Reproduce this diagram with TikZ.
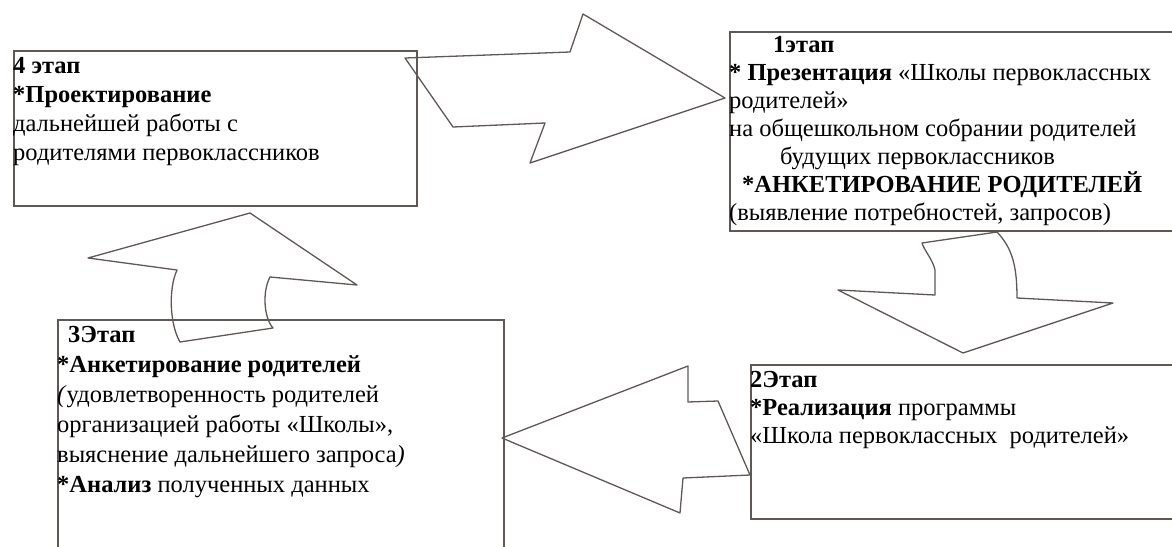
\documentclass[tikz,border=0pt]{standalone}
\usepackage{fontspec}
\setmainfont{Liberation Serif}
\usetikzlibrary{positioning}

\definecolor{framegray}{RGB}{96,88,84}
\tikzset{
    stagebox/.style={draw=framegray, line width=1.6pt, anchor=north west, inner sep=0pt},
    stagetext/.style={anchor=base west, align=left, inner sep=0pt, font=\fontsize{24.5}{28}\selectfont},
    blockarrow/.style={draw=framegray, line width=1.3pt, line join=round},
}

\begin{document}
\begin{tikzpicture}[x=1pt,y=-1pt]
    \useasboundingbox (0,0) rectangle (1172,546);
    \begin{scope} % Frames of the four stages
        \node[stagebox, minimum width=403pt, minimum height=155pt] (s4) at (13,50) {};
        \node[stagebox, minimum width=470pt, minimum height=199pt] (s1) at (729,31) {};
        \node[stagebox, minimum width=450pt, minimum height=154pt] (s2) at (750,364) {};
        \node[stagebox, minimum width=446pt, minimum height=260pt] (s3) at (57,319) {};
    \end{scope}
    \begin{scope} % Texts of the stages (anchored at the baseline of the last line)
        \node[stagetext, font=\fontsize{24.5}{29}\selectfont] (t4) at ([yshift=-110pt]s4.north west)
            {\textbf{4 этап}\\
             \textbf{*Проектирование}\\
             дальнейшей работы с\\
             родителями первоклассников};
        \node[stagetext] (t1) at ([yshift=-189pt]s1.north west)
            {\hspace*{44pt}\textbf{1этап}\\
             \textbf{* Презентация} «Школы первоклассных\\
             родителей»\\
             на общешкольном собрании родителей\\
             \hspace*{51pt}будущих первоклассников\\
             \hspace*{13pt}\textbf{*АНКЕТИРОВАНИЕ РОДИТЕЛЕЙ}\\
             (выявление потребностей, запросов)};
        \node[stagetext] (t2) at ([yshift=-79pt]s2.north west)
            {\textbf{2Этап}\\
             \textbf{*Реализация} программы\\
             «Школа первоклассных\ \ родителей»};
        \node[stagetext, font=\fontsize{24.5}{30}\selectfont] (t3) at ([yshift=-173pt]s3.north west)
            {\hspace*{11pt}\textbf{3Этап}\\
             \textbf{*Анкетирование родителей}\\
             \textit{(}удовлетворенность родителей\\
             организацией работы «Школы»,\\
             выяснение дальнейшего запроса\textit{)}\\
             \textbf{*Анализ} полученных данных};
    \end{scope}
    \begin{scope} % Block arrows between the stages
        % 4 -> 1
        \draw[blockarrow] (405,58) -- (570,52) -- (583,14) -- (725,98) -- (530,163)
            -- (545,123) -- (453,127) -- cycle;
        % 1 -> 2
        \draw[blockarrow] (922,243) -- (997,232) .. controls (1012,248) and (1017,265) .. (1017,298)
            -- (1113,303) -- (963,353) -- (838,290) -- (935,295) -- (935,270)
            .. controls (933,260) and (924,250) .. (922,243) -- cycle;
        % 2 -> 3
        \draw[blockarrow] (502,438) -- (688,366) -- (688,402) -- (718,401) -- (750,475)
            -- (683,478) -- (680,513) -- cycle;
        % 3 -> 4
        \draw[blockarrow] (250,213) -- (357,285) -- (270,277)
            .. controls (262,292) and (264,318) .. (273,328) -- (180,342)
            .. controls (170,325) and (168,290) .. (177,270) -- (88,258) -- cycle;
    \end{scope}
\end{tikzpicture}
\end{document}
